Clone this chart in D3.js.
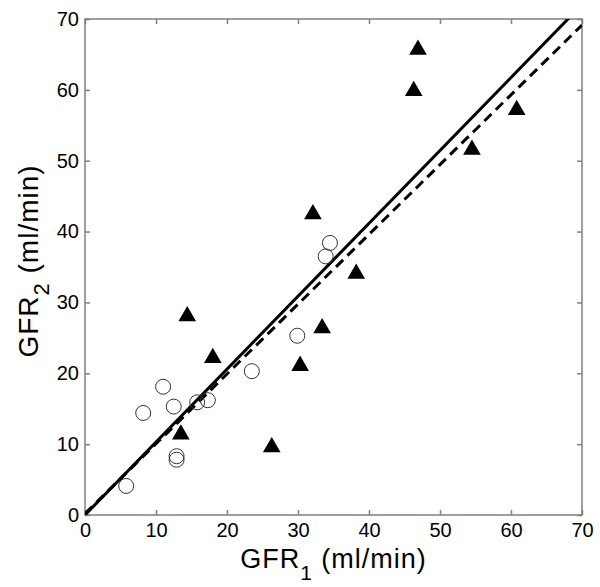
<!DOCTYPE html>
<html><head><meta charset="utf-8">
<script src="https://cdn.jsdelivr.net/npm/d3@7"></script>
<style>body{margin:0;background:#fff}svg{display:block}</style>
</head><body>
<script>
const ticks = [0,10,20,30,40,50,60,70];
// open circles
const circleX = [34.5, 33.9, 29.9, 23.5, 11.0, 12.5, 15.8, 17.3, 8.2, 12.9, 12.9, 5.8];
const circleY = [38.4, 36.5, 25.3, 20.3, 18.1, 15.3, 15.9, 16.2, 14.4, 8.3, 7.8, 4.1];
// filled triangles
const triX = [46.9, 46.3, 60.8, 54.5, 32.1, 38.2, 33.4, 30.3, 18.0, 14.4, 13.5, 26.3];
const triY = [65.8, 60.0, 57.3, 51.7, 42.6, 34.2, 26.5, 21.2, 22.3, 28.2, 11.5, 9.7];
// regression lines: [slope, intercept]
const solidFit = [1.029, 0.0];
const dashedFit = [0.985, 0.2];

const W = 600, H = 587;
const m = {l:85, r:18, t:19, b:72};
const svg = d3.select("body").append("svg").attr("width",W).attr("height",H);
const x = d3.scaleLinear().domain([0,70]).range([m.l, W-m.r]);
const y = d3.scaleLinear().domain([0,70]).range([H-m.b, m.t]);
const font = "Liberation Sans, Arial, sans-serif";
const axisCol = "#808080";

// frame
svg.append("rect").attr("x",x(0)).attr("y",y(70)).attr("width",x(70)-x(0)).attr("height",y(0)-y(70))
  .attr("fill","none").attr("stroke",axisCol).attr("stroke-width",1.5);

const tl = 5;
const axB = svg.append("g").attr("transform",`translate(0,${y(0)})`)
  .call(d3.axisBottom(x).tickValues(ticks).tickSize(-tl).tickPadding(8));
const axT = svg.append("g").attr("transform",`translate(0,${y(70)})`)
  .call(d3.axisTop(x).tickValues(ticks).tickSize(-tl).tickFormat(""));
const axL = svg.append("g").attr("transform",`translate(${x(0)},0)`)
  .call(d3.axisLeft(y).tickValues(ticks).tickSize(-tl).tickPadding(6));
const axR = svg.append("g").attr("transform",`translate(${x(70)},0)`)
  .call(d3.axisRight(y).tickValues(ticks).tickSize(-tl).tickFormat(""));
[axB,axT,axL,axR].forEach(g=>{
  g.select(".domain").remove();
  g.selectAll(".tick line").attr("stroke",axisCol).attr("stroke-width",1.5);
  g.selectAll(".tick text").attr("fill","#000").style("font-family",font).style("font-size","20px");
});

// clip
svg.append("clipPath").attr("id","clip").append("rect")
  .attr("x",x(0)).attr("y",y(70)).attr("width",x(70)-x(0)).attr("height",y(0)-y(70));

const lineGen = ([s,b]) => [[0,b],[70,s*70+b]];
const line = d3.line().x(d=>x(d[0])).y(d=>y(d[1]));
svg.append("path").attr("clip-path","url(#clip)").attr("d",line(lineGen(solidFit)))
  .attr("stroke","#000").attr("stroke-width",3).attr("fill","none");
svg.append("path").attr("clip-path","url(#clip)").attr("d",line(lineGen(dashedFit)))
  .attr("stroke","#000").attr("stroke-width",3).attr("fill","none").attr("stroke-dasharray","10,6");

// circles
svg.append("g").selectAll("circle").data(circleX.map((d,i)=>[d,circleY[i]])).join("circle")
  .attr("cx",d=>x(d[0])).attr("cy",d=>y(d[1])).attr("r",7.5)
  .attr("fill","none").attr("stroke","#333").attr("stroke-width",1);

// triangles
const tri = d3.symbol().type(d3.symbolTriangle).size(135);
svg.append("g").selectAll("path").data(triX.map((d,i)=>[d,triY[i]])).join("path")
  .attr("d",tri).attr("transform",d=>`translate(${x(d[0])},${y(d[1])+1})`).attr("fill","#000");

// axis labels
const xl = svg.append("text").attr("x",(x(0)+x(70))/2).attr("y",568)
  .attr("text-anchor","middle").style("font-family",font).style("font-size","27px").style("letter-spacing","1px");
xl.append("tspan").text("GFR");
xl.append("tspan").attr("dy",12).style("font-size","21px").text("1");
xl.append("tspan").attr("dy",-12).text("\u00a0(ml/min)");

const yl = svg.append("text").attr("transform",`translate(38,${261}) rotate(-90)`)
  .attr("text-anchor","middle").style("font-family",font).style("font-size","28px").style("letter-spacing","1px");
yl.append("tspan").text("GFR");
yl.append("tspan").attr("dy",11).style("font-size","22px").text("2");
yl.append("tspan").attr("dy",-11).text("\u00a0(ml/min)");
</script>
</body></html>
